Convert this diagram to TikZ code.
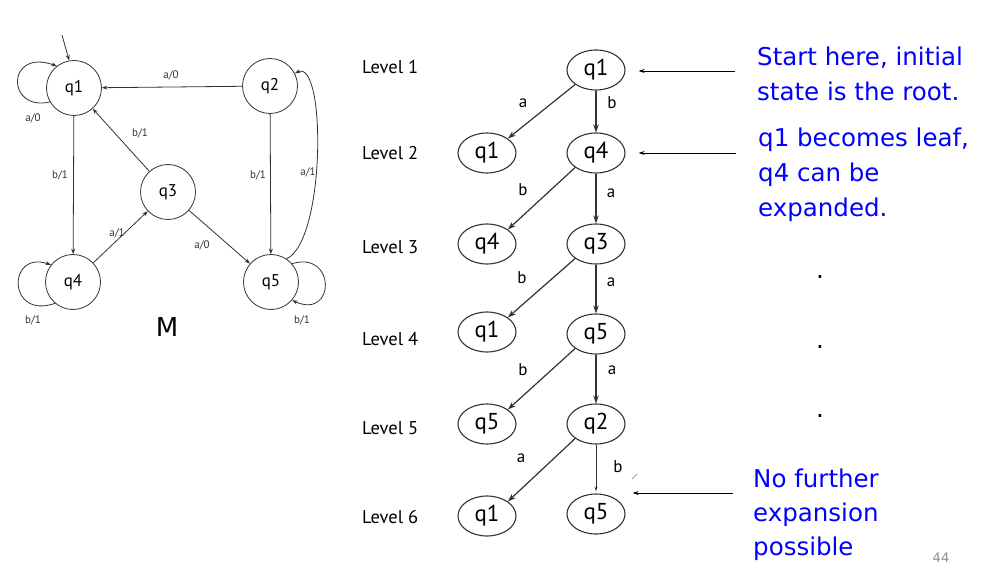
\documentclass[tikz,border=0pt]{standalone}
\usepackage{fontspec}
\setmainfont{PT Sans}
\newfontfamily\blu{DejaVu Sans}
\usetikzlibrary{arrows.meta,shapes.geometric}
\definecolor{slideblue}{RGB}{0,0,255}
\definecolor{linegray}{RGB}{50,50,50}
\begin{document}
\begin{tikzpicture}[x=1pt,y=-1pt,
  fsmstate/.style={circle,draw=linegray,line width=0.8pt,minimum size=55pt,inner sep=0pt,font=\fontsize{17}{17}\selectfont},
  fa/.style={draw=linegray,line width=0.8pt,-{Stealth[length=5.5pt,width=4pt]}},
  lab/.style={font=\fontsize{11}{11}\selectfont,text=black!80,inner sep=0pt},
  tnode/.style={ellipse,draw=linegray,line width=1.1pt,minimum width=58pt,minimum height=40pt,inner sep=0pt,font=\fontsize{23}{23}\selectfont},
  ta/.style={draw=linegray,line width=1.2pt,-{Stealth[length=8pt,width=5.5pt]}},
  tlab/.style={font=\fontsize{17}{17}\selectfont,inner sep=0pt},
  lvl/.style={font=\fontsize{18.5}{18.5}\selectfont,anchor=base west,inner sep=0pt},
  ptr/.style={draw=black,line width=0.9pt,-{Stealth[length=6pt,width=4pt]}},
  note/.style={font=\blu\fontsize{24.5}{35}\selectfont,text=slideblue,anchor=base west,inner sep=0pt},
  dotmark/.style={font=\blu\fontsize{24.5}{24.5}\selectfont,anchor=base,inner sep=0pt}
]
\useasboundingbox (0,0) rectangle (983,572);

% ---------------- FSM M ----------------
\node[fsmstate] (q1) at (74,88) {q1};
\node[fsmstate] (q2) at (270,86) {q2};
\node[fsmstate] (q3) at (168,192) {q3};
\node[fsmstate] (q4) at (73,282) {q4};
\node[fsmstate] (q5) at (271,282) {q5};

\coordinate (init) at (62,35);
\draw[fa] (init) -- (q1.100);
\draw[fa] (q1.210) .. controls (6,112) and (6,48) .. (q1.128);
\node[lab] at (33,118) {a/0};

\draw[fa] (q2) -- (q1);
\node[lab] at (171,75) {a/0};

\draw[fa] (q3) -- (q1);
\node[lab] at (140,133) {b/1};

\draw[fa] (q1) -- (q4);
\node[lab] at (60,175) {b/1};

\draw[fa] (q4) -- (q3);
\node[lab] at (117,233) {a/1};

\draw[fa] (q3) -- (q5);
\node[lab] at (202,245) {a/0};

\draw[fa] (q2) -- (q5);
\node[lab] at (258,175) {b/1};

\draw[fa] (q5.56) .. controls (326,240) and (326,58) .. (q2.27);
\node[lab] at (308,172) {a/1};

\draw[fa] (q4.230) .. controls (7,320) and (7,250) .. (q4.142);
\node[lab] at (33,320) {b/1};

\draw[fa] (q5.41) .. controls (336,250) and (336,320) .. (q5.319);
\node[lab] at (302,320) {b/1};

\node[font=\blu\fontsize{26}{26}\selectfont,inner sep=0pt] (M) at (167,327) {M};

% ---------------- Tree ----------------
\node[lvl] (L1) at (362,73.5) {Level 1};
\node[lvl] (L2) at (362,160) {Level 2};
\node[lvl] (L3) at (362,254) {Level 3};
\node[lvl] (L4) at (362,345) {Level 4};
\node[lvl] (L5) at (362,434) {Level 5};
\node[lvl] (L6) at (362,523) {Level 6};

\node[tnode] (t1)  at (596,70)  {q1};
\node[tnode] (t2a) at (487,153) {q1};
\node[tnode] (t2b) at (596,153) {q4};
\node[tnode] (t3a) at (487,244) {q4};
\node[tnode] (t3b) at (596,244) {q3};
\node[tnode] (t4a) at (487,332) {q1};
\node[tnode] (t4b) at (596,334) {q5};
\node[tnode] (t5a) at (487,424) {q5};
\node[tnode] (t5b) at (596,424) {q2};
\node[tnode] (t6a) at (487,516) {q1};
\node[tnode] (t6b) at (596,514) {q5};

\draw[ta] (t1.south west) -- (t2a.north east);
\draw[ta] (t1.south) -- (t2b.north);
\node[tlab] at (523,103) {a};
\node[tlab] at (612,103) {b};

\draw[ta] (t2b.south west) -- (t3a.north east);
\draw[ta] (t2b.south) -- (t3b.north);
\node[tlab] at (523,190) {b};
\node[tlab] at (611,193) {a};

\draw[ta] (t3b.south west) -- (t4a.north east);
\draw[ta] (t3b.south) -- (t4b.north);
\node[tlab] at (522,278) {b};
\node[tlab] at (611,282) {a};

\draw[ta] (t4b.south west) -- (t5a.north east);
\draw[ta] (t4b.south) -- (t5b.north);
\node[tlab] at (523,370) {b};
\node[tlab] at (612,370) {a};

\draw[ta] (t5b.south west) -- (t6a.north east);
\draw[draw=linegray,line width=0.7pt,-{Stealth[length=5pt,width=3pt]},shorten >=2pt] (t5b.south) -- (t6b.north);
\node[tlab] at (521,458) {a};
\node[tlab] at (618,467) {b};
\draw[black!35,line width=1pt] (632,479) -- (637,474);

% ---------------- Pointers and notes ----------------
\coordinate (p1) at (735,71);
\coordinate (p2) at (736,153);
\coordinate (p3) at (733,493);
\draw[ptr] (p1) -- ([xshift=13pt]t1.east |- p1);
\draw[ptr] (p2) -- ([xshift=13pt]t2b.east |- p2);
\draw[ptr] (p3) -- ([xshift=7pt]t6b.east |- p3);

\node[note] (n1a) at (757,66) {Start here, initial};
\node[note] (n1b) at (757,101) {state is the root.};
\node[note] (n2a) at (758,147) {q1 becomes leaf,};
\node[note] (n2b) at (758,182) {q4 can be};
\node[note] (n2c) at (758,217) {expanded.};
\node[note] (n3a) at (753,487) {No further};
\node[note] (n3b) at (753,521) {expansion};
\node[note] (n3c) at (753,555) {possible};

\node[dotmark] (d1) at (820,279) {.};
\node[dotmark] (d2) at (820,348) {.};
\node[dotmark] (d3) at (820,417) {.};

\node[font=\blu\fontsize{13}{13}\selectfont,text=black!45,inner sep=0pt] (pg) at (941,558) {44};
\end{tikzpicture}
\end{document}
